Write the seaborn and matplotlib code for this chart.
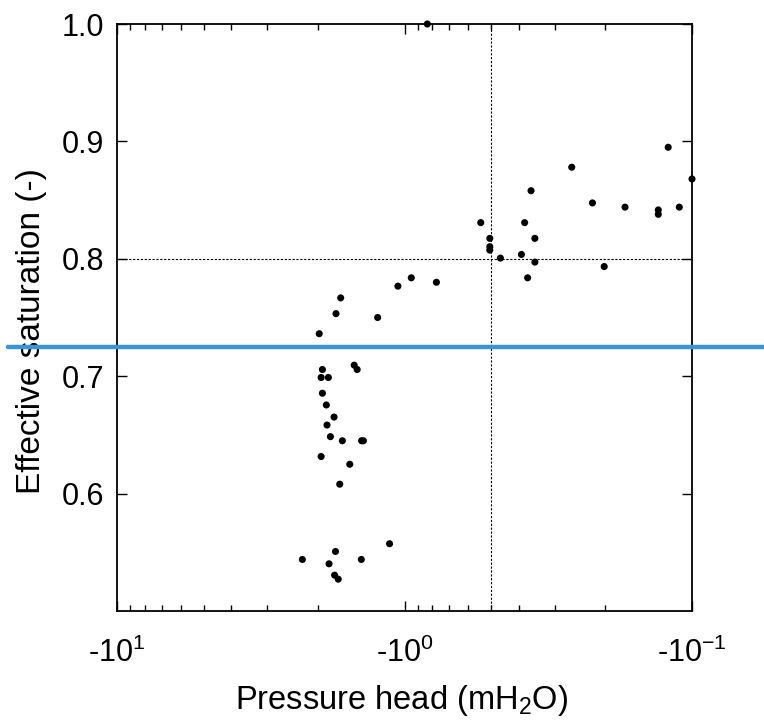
import numpy as np
import pandas as pd
import matplotlib
matplotlib.use("Agg")
import matplotlib.pyplot as plt
import matplotlib.ticker as mticker
from matplotlib.lines import Line2D
import seaborn as sns

# Data (pressure head in m H2O, negative)
pressure_head = [
    -0.833, -0.121, -0.100, -0.262, -0.363, -0.222, -0.171, -0.131, -0.131,
    -0.1107, -0.543, -0.382, -0.505, -0.505, -0.505, -0.352, -0.464, -0.392,
    -0.352, -0.202, -0.373, -0.947, -0.7745, -1.054, -1.667, -1.731, -1.240,
    -1.98, -1.93, -1.496, -1.461, -1.95, -1.84, -1.93, -1.87, -1.758, -1.86,
    -1.81, -1.645, -1.41, -1.39, -1.95, -1.55, -1.68, -1.127, -1.738, -2.266,
    -1.413, -1.83, -1.75, -1.70,
]
effective_saturation = [
    1.000, 0.895, 0.868, 0.878, 0.858, 0.8476, 0.844, 0.8416, 0.8379,
    0.844, 0.8308, 0.8308, 0.8174, 0.8103, 0.8074, 0.8174, 0.8006, 0.8037,
    0.7972, 0.7934, 0.7838, 0.7838, 0.780, 0.7767, 0.7667, 0.7533, 0.750,
    0.7362, 0.7057, 0.7094, 0.7057, 0.6989, 0.6989, 0.6855, 0.6755, 0.6652, 0.6584,
    0.6485, 0.645, 0.645, 0.645, 0.6316, 0.625, 0.608, 0.5573, 0.5507, 0.5439,
    0.5439, 0.5402, 0.5305, 0.5271,
]
x_ticks = [10, 1, 0.1]
x_tick_labels = ["-10$^{1}$", "-10$^{0}$", "-10$^{-1}$"]
y_ticks = [0.6, 0.7, 0.8, 0.9, 1.0]
ref_head = -0.5
ref_sat = 0.8
blue_level = 0.7248

df = pd.DataFrame({"h": pressure_head, "Se": effective_saturation})
df["abs_h"] = -df["h"]

sns.set_style("ticks")
plt.rcParams["font.family"] = ["Liberation Sans", "DejaVu Sans"]
plt.rcParams["mathtext.default"] = "regular"
plt.rcParams["axes.linewidth"] = 1.3
plt.rcParams["text.color"] = "black"
plt.rcParams["axes.labelcolor"] = "black"
plt.rcParams["xtick.color"] = "black"
plt.rcParams["ytick.color"] = "black"

fig = plt.figure(figsize=(7.64, 7.22), dpi=100)
ax = fig.add_axes([117 / 764, 1 - 611 / 722, (692 - 117) / 764, (611 - 24) / 722])

sns.scatterplot(data=df, x="abs_h", y="Se", ax=ax, color="black", s=26,
                edgecolor="none", clip_on=False, zorder=3, legend=False)

ax.set_xscale("log")
ax.set_xlim(10, 0.1)
ax.set_ylim(0.5, 1.0)

ax.axvline(-ref_head, color="black", lw=0.8, ls=(0, (2, 1.5)), zorder=1)
ax.axhline(ref_sat, color="black", lw=0.8, ls=(0, (2, 1.5)), zorder=1)

ax.set_xticks(x_ticks)
ax.set_xticklabels(x_tick_labels)
ax.xaxis.set_minor_locator(mticker.LogLocator(base=10, subs=np.arange(2, 10)))
ax.xaxis.set_minor_formatter(mticker.NullFormatter())
ax.set_yticks(y_ticks)
ax.set_yticklabels([f"{v:.1f}" for v in y_ticks])

ax.tick_params(which="major", direction="in", top=True, right=True,
               length=7, width=1, labelsize=22, color="black", labelcolor="black")
ax.tick_params(axis="x", which="major", pad=19)
ax.tick_params(axis="y", which="major", pad=9)
ax.tick_params(which="minor", direction="in", top=True, right=False,
               length=4, width=1, color="black")
ax.tick_params(axis="y", which="minor", left=False, right=False)

for s in ax.spines.values():
    s.set_color("black")

ax.set_xlabel("Pressure head (mH$_2$O)", fontsize=23.5)
ax.set_ylabel("Effective saturation (-)", fontsize=24)
ax.xaxis.set_label_coords(0.495, -0.122)
ax.yaxis.set_label_coords(-0.122, 0.477)

# blue horizontal line spanning the figure
yfig = ax.transData.transform((1, blue_level))[1]
yfig = fig.transFigure.inverted().transform((0, yfig))[1]
fig.add_artist(Line2D([8 / 764, 1.0], [yfig, yfig], color="#3a95d4", lw=3.2,
                      transform=fig.transFigure, zorder=10))

fig.savefig("out.png", dpi=100)
